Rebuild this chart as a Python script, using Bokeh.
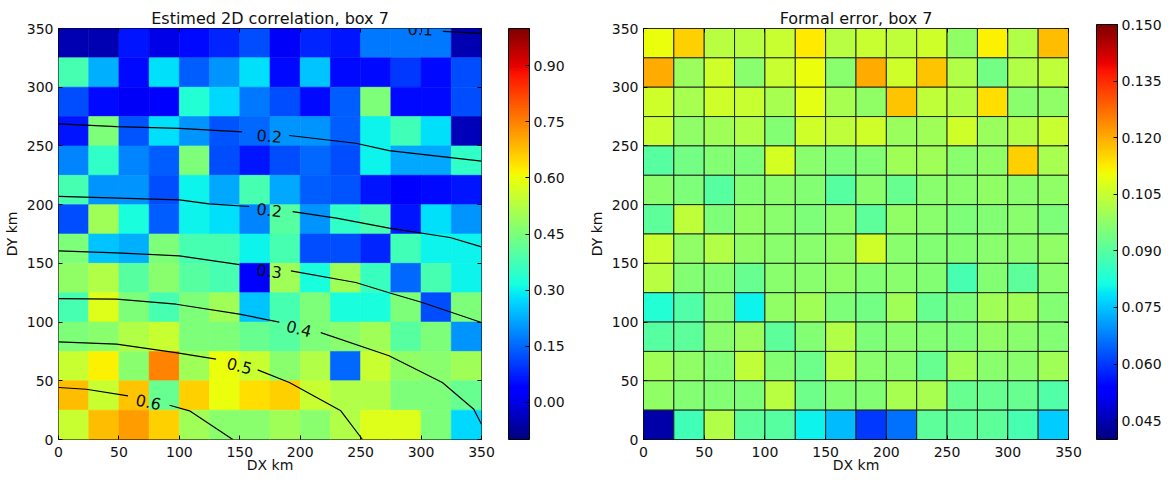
import numpy as np
from bokeh.plotting import figure
from bokeh.models import (ColumnDataSource, LinearColorMapper, ColorBar, FixedTicker,
                          CustomJSTickFormatter, Range1d, LinearAxis)
from bokeh.layouts import row
from bokeh.transform import transform
from bokeh.embed import file_html
from bokeh.resources import INLINE
from bokeh.core.properties import value

# ---------------- data ----------------
cell_size = 25
dx_centers = [12.5 + 25 * i for i in range(14)]
dy_centers_top_down = [337.5 - 25 * i for i in range(14)]
axis_ticks = [0, 50, 100, 150, 200, 250, 300, 350]

# estimated 2D correlation, rows from top (DY 325-350) to bottom (DY 0-25)
corr_rows = [
    [-0.05, -0.05, 0.06, 0.00, 0.05, 0.08, 0.12, 0.02, 0.08, 0.06, 0.17, 0.17, 0.17, -0.05],
    [0.38, 0.23, 0.05, 0.28, 0.14, 0.20, 0.28, 0.05, 0.25, 0.05, 0.05, 0.10, 0.05, 0.12],
    [0.12, 0.05, 0.02, 0.04, 0.33, 0.27, 0.17, 0.12, 0.05, 0.14, 0.45, 0.05, 0.05, 0.12],
    [0.06, 0.45, 0.13, 0.28, 0.20, 0.13, 0.15, 0.20, 0.20, 0.14, 0.30, 0.37, 0.28, -0.04],
    [0.18, 0.35, 0.18, 0.14, 0.45, 0.12, 0.06, 0.12, 0.15, 0.12, 0.30, 0.22, 0.22, 0.35],
    [0.38, 0.20, 0.20, 0.12, 0.30, 0.22, 0.38, 0.22, 0.14, 0.13, 0.06, 0.03, 0.05, 0.06],
    [0.12, 0.50, 0.32, 0.14, 0.30, 0.28, 0.18, 0.40, 0.20, 0.35, 0.38, 0.06, 0.28, 0.20],
    [0.45, 0.25, 0.23, 0.45, 0.38, 0.38, 0.30, 0.38, 0.12, 0.12, 0.08, 0.37, 0.30, 0.30],
    [0.48, 0.52, 0.40, 0.47, 0.40, 0.38, 0.04, 0.50, 0.32, 0.50, 0.36, 0.15, 0.38, 0.30],
    [0.38, 0.58, 0.45, 0.38, 0.45, 0.50, 0.25, 0.38, 0.45, 0.32, 0.32, 0.45, 0.12, 0.45],
    [0.45, 0.47, 0.52, 0.55, 0.45, 0.45, 0.42, 0.40, 0.45, 0.47, 0.50, 0.40, 0.45, 0.20],
    [0.55, 0.62, 0.47, 0.75, 0.50, 0.60, 0.55, 0.47, 0.52, 0.15, 0.55, 0.48, 0.47, 0.50],
    [0.68, 0.55, 0.67, 0.42, 0.66, 0.60, 0.64, 0.66, 0.55, 0.52, 0.52, 0.45, 0.45, 0.42],
    [0.55, 0.68, 0.72, 0.66, 0.50, 0.47, 0.47, 0.50, 0.47, 0.52, 0.58, 0.58, 0.45, 0.27],
]

# formal error, same layout
err_rows = [
    [0.110, 0.116, 0.103, 0.103, 0.105, 0.113, 0.103, 0.105, 0.104, 0.106, 0.098, 0.112, 0.102, 0.118],
    [0.120, 0.099, 0.106, 0.097, 0.105, 0.110, 0.097, 0.120, 0.106, 0.117, 0.102, 0.094, 0.102, 0.104],
    [0.106, 0.101, 0.106, 0.105, 0.101, 0.109, 0.101, 0.098, 0.117, 0.104, 0.102, 0.114, 0.097, 0.098],
    [0.105, 0.098, 0.100, 0.102, 0.096, 0.106, 0.104, 0.106, 0.099, 0.100, 0.106, 0.099, 0.102, 0.105],
    [0.090, 0.094, 0.096, 0.095, 0.107, 0.097, 0.095, 0.096, 0.100, 0.100, 0.097, 0.098, 0.116, 0.101],
    [0.097, 0.095, 0.090, 0.096, 0.097, 0.096, 0.090, 0.097, 0.092, 0.097, 0.097, 0.098, 0.097, 0.098],
    [0.091, 0.104, 0.095, 0.098, 0.097, 0.095, 0.097, 0.091, 0.098, 0.097, 0.095, 0.096, 0.097, 0.095],
    [0.105, 0.098, 0.102, 0.098, 0.097, 0.097, 0.098, 0.106, 0.097, 0.096, 0.096, 0.097, 0.097, 0.098],
    [0.103, 0.096, 0.096, 0.092, 0.097, 0.097, 0.098, 0.096, 0.097, 0.096, 0.088, 0.096, 0.091, 0.097],
    [0.083, 0.089, 0.096, 0.080, 0.098, 0.100, 0.095, 0.094, 0.100, 0.092, 0.095, 0.100, 0.100, 0.096],
    [0.090, 0.091, 0.097, 0.099, 0.091, 0.096, 0.102, 0.095, 0.097, 0.096, 0.095, 0.098, 0.097, 0.096],
    [0.100, 0.098, 0.096, 0.104, 0.096, 0.093, 0.103, 0.097, 0.097, 0.092, 0.100, 0.097, 0.097, 0.100],
    [0.098, 0.096, 0.096, 0.095, 0.103, 0.093, 0.096, 0.096, 0.101, 0.101, 0.092, 0.092, 0.092, 0.089],
    [0.044, 0.087, 0.102, 0.091, 0.090, 0.080, 0.074, 0.060, 0.066, 0.091, 0.091, 0.091, 0.088, 0.076],
]

corr_ticks = [0.0, 0.15, 0.30, 0.45, 0.60, 0.75, 0.90]
corr_range = (-0.1, 1.0)
err_ticks = [0.045, 0.060, 0.075, 0.090, 0.105, 0.120, 0.135, 0.150]
err_range = (0.040, 0.150)

# contour lines of the fitted correlation (DX, DY km), each split by its label
contour_seg_x = [
    [318, 350],
    [0, 48, 100, 152], [191, 246, 273.5, 350],
    [0, 100, 124.6, 157.7], [193.7, 230, 273.5, 324, 350],
    [0, 48, 100, 149.7], [192.3, 246, 273.5, 301, 350],
    [0, 48, 97.4, 149.7, 182.7], [217, 273.5, 317.6, 343.6, 350],
    [0, 48, 97, 130.4], [164.8, 191, 233.6, 251.5],
    [0, 23, 57.5], [91.9, 108.4, 144.2],
]
contour_seg_y = [
    [347.5, 345.8],
    [268.8, 266.5, 265, 262], [258.9, 252.3, 246, 237],
    [207, 204, 200.7, 198.4], [194, 188.5, 180, 172, 164],
    [160.6, 159, 156.4, 149], [143.6, 133.7, 125, 116.7, 99.6],
    [120, 119.5, 115.2, 106.7, 100], [91, 71.3, 48.5, 25.8, 13],
    [83.2, 81.2, 74, 68.4], [59.3, 48.5, 24.4, 0],
    [44.3, 42.8, 37.2], [29.2, 24.4, 0],
]
contour_labels = ["0.1", "0.2", "0.2", "0.3", "0.4", "0.5", "0.6"]
contour_label_x = [299.5, 174.4, 174.4, 174.4, 199, 149.7, 74.5]
contour_label_y = [349.5, 258.5, 195.5, 143.6, 94.5, 62.7, 32]
contour_label_angle_deg = [-2, -4, -6, -7, -14, -14, -12]

# ---------------- style ----------------
FONT = "DejaVu Sans"
FIG_H = 481
LEFT = 57


def jet_palette(n=256):
    t = np.linspace(0, 1, n)
    r = np.interp(t, [0, 0.35, 0.66, 0.89, 1], [0, 0, 1, 1, 0.5])
    g = np.interp(t, [0, 0.125, 0.375, 0.64, 0.91, 1], [0, 0, 1, 1, 0, 0])
    b = np.interp(t, [0, 0.11, 0.34, 0.65, 1], [0.5, 1, 1, 0, 0])
    return ["#%02x%02x%02x" % (int(round(255 * a)), int(round(255 * c)), int(round(255 * d)))
            for a, c, d in zip(r, g, b)]


JET = jet_palette()


def cells(rows):
    xs, ys, vs = [], [], []
    for j, yc in enumerate(dy_centers_top_down):
        for i, xc in enumerate(dx_centers):
            xs.append(xc)
            ys.append(yc)
            vs.append(rows[j][i])
    return ColumnDataSource(dict(x=xs, y=ys, v=vs))


def fixed_fmt(decimals):
    return CustomJSTickFormatter(code=(
        "const v = Math.abs(tick) < 1e-9 ? 0 : tick; return v.toFixed(%d);" % decimals))


def mirror_axis(p, side):
    # tick marks only (matplotlib-style ticks on all four sides)
    ax = LinearAxis(ticker=FixedTicker(ticks=axis_ticks))
    ax.major_label_text_font_size = "1px"
    ax.major_label_text_color = None
    ax.major_label_standoff = 0
    ax.major_tick_in = 4
    ax.major_tick_out = 0
    ax.minor_tick_line_color = None
    ax.axis_line_color = None
    p.add_layout(ax, side)


def panel(title, rows, vrange, ticks, decimals, width, top, bottom, right, gap, edges):
    p = figure(width=width, height=FIG_H,
               min_border_left=LEFT, min_border_right=right,
               min_border_top=top, min_border_bottom=bottom,
               x_range=Range1d(0, 350), y_range=Range1d(0, 350),
               output_backend="svg", toolbar_location=None)
    frame_h = FIG_H - top - bottom
    frame_w = width - LEFT - right
    mapper = LinearColorMapper(palette=JET, low=vrange[0], high=vrange[1])
    src = cells(rows)
    if edges:
        p.rect("x", "y", width=cell_size, height=cell_size, source=src,
               fill_color=transform("v", mapper), line_color="#1a1a1a", line_width=0.9)
    else:
        p.rect("x", "y", width=cell_size, height=cell_size, source=src,
               fill_color=transform("v", mapper), line_color=transform("v", mapper),
               line_width=0.6)
    p.grid.visible = False
    p.outline_line_color = "black"
    p.outline_line_width = 1
    p.background_fill_color = "white"
    for ax in (p.xaxis[0], p.yaxis[0]):
        ax.ticker = FixedTicker(ticks=axis_ticks)
        ax.minor_tick_line_color = None
        ax.major_tick_in = 4
        ax.major_tick_out = 0
        ax.axis_line_color = None
        ax.major_label_text_font = FONT
        ax.major_label_text_font_size = "14px"
        ax.major_label_text_color = "#111111"
        ax.axis_label_text_font = FONT
        ax.axis_label_text_font_size = "14px"
        ax.axis_label_text_font_style = "normal"
        ax.axis_label_text_color = "#111111"
    p.xaxis[0].axis_label = "DX km"
    p.yaxis[0].axis_label = "DY km"
    p.xaxis[0].major_label_standoff = 7
    p.xaxis[0].axis_label_standoff = -3
    p.yaxis[0].major_label_standoff = 5
    p.yaxis[0].axis_label_standoff = 4
    mirror_axis(p, "right")
    mirror_axis(p, "above")

    p.title.text = title
    p.title.align = "center"
    p.title.text_font = FONT
    p.title.text_font_size = "16px"
    p.title.text_font_style = "normal"
    p.title.text_color = "#111111"
    p.title.standoff = 1

    cb = ColorBar(color_mapper=mapper, width=21, height=frame_h,
                  ticker=FixedTicker(ticks=ticks),
                  formatter=fixed_fmt(decimals),
                  major_label_text_font=FONT, major_label_text_font_size="14px",
                  major_label_text_color="#111111",
                  major_tick_line_color="black", major_tick_in=4, major_tick_out=0,
                  minor_tick_line_color=None,
                  bar_line_color="black", label_standoff=4,
                  padding=0, margin=0, location=(frame_w + gap, 0),
                  background_fill_alpha=0, border_line_color=None)
    p.add_layout(cb, "center")
    return p


p1 = panel("Estimed 2D correlation, box 7", corr_rows, corr_range, corr_ticks, 2,
           585, 28, 42, 104, 26, False)
p1.multi_line(contour_seg_x, contour_seg_y, line_color="black", line_width=1.2)
p1.text(contour_label_x, contour_label_y, text=contour_labels,
        angle=[a * np.pi / 180 for a in contour_label_angle_deg],
        text_align="center", text_baseline="middle",
        text_font=value(FONT), text_font_size="16px", text_color="#111111")

p2 = panel("Formal error, box 7", err_rows, err_range, err_ticks, 3,
           584, 24, 42, 101, 27, True)

layout = row(p1, p2)
open("out.html", "w").write(file_html(layout, INLINE))
